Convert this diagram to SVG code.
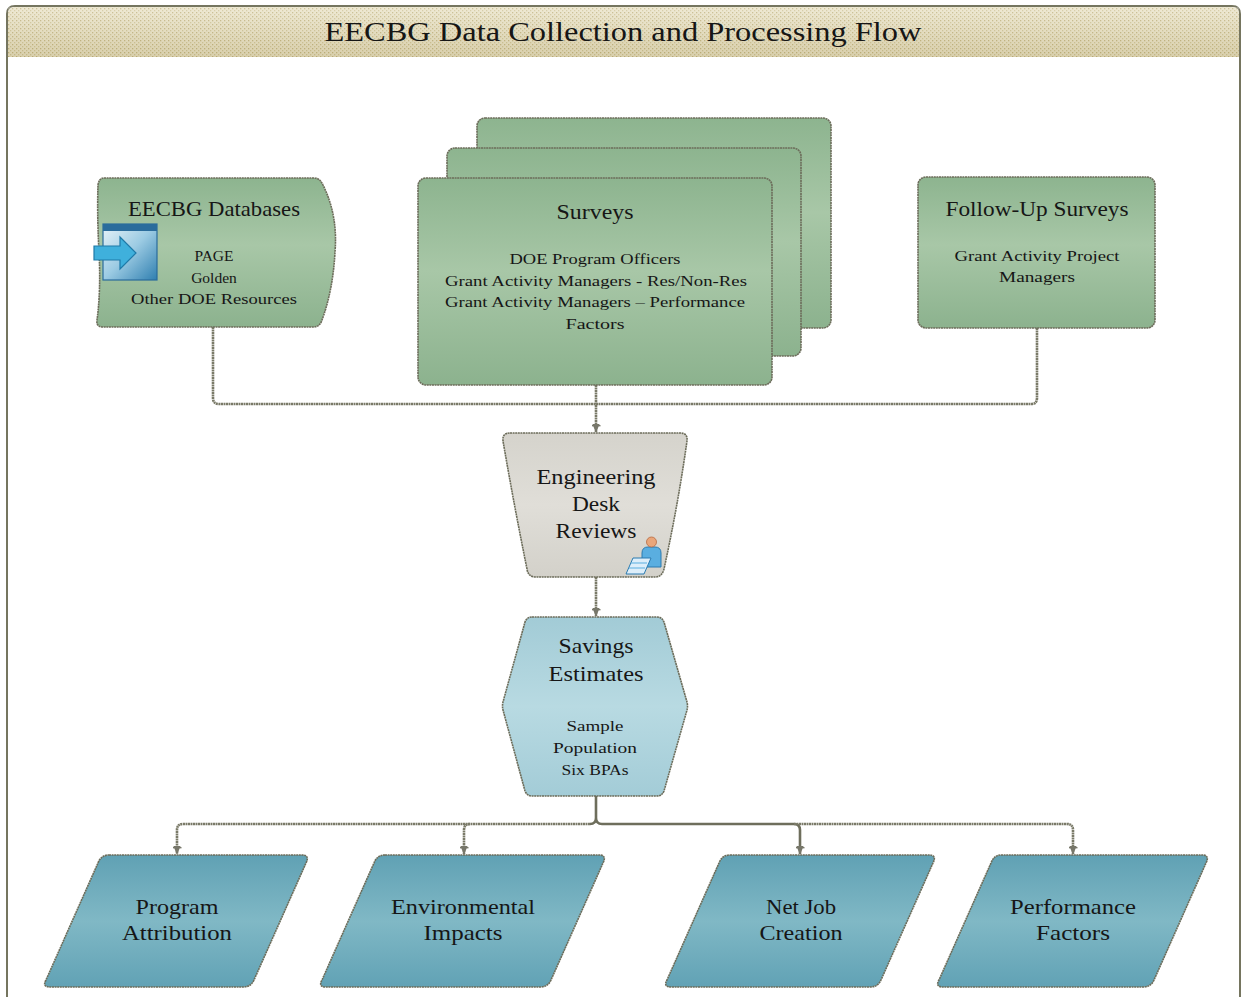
<svg xmlns="http://www.w3.org/2000/svg" width="1241" height="997" viewBox="0 0 1241 997">
<defs>
<pattern id="khaki" width="4" height="4" patternUnits="userSpaceOnUse">
<rect width="4" height="4" fill="#e9e2c6"/>
<rect x="0" y="0" width="1.3" height="1.3" fill="#bfb07a"/>
<rect x="2" y="2" width="1.3" height="1.3" fill="#cdc192"/>
</pattern>
<linearGradient id="gBand" x1="0" y1="0" x2="0" y2="1">
<stop offset="0" stop-color="#ffffff" stop-opacity="0.25"/>
<stop offset="1" stop-color="#a89860" stop-opacity="0.25"/>
</linearGradient>
<linearGradient id="gGreen" x1="0" y1="0" x2="0" y2="1">
<stop offset="0" stop-color="#8db48f"/>
<stop offset="0.45" stop-color="#a8c7a7"/>
<stop offset="1" stop-color="#8cb28e"/>
</linearGradient>
<linearGradient id="gGrey" x1="0" y1="0" x2="0" y2="1">
<stop offset="0" stop-color="#d5d3cc"/>
<stop offset="0.5" stop-color="#e0ded8"/>
<stop offset="1" stop-color="#d3d1ca"/>
</linearGradient>
<linearGradient id="gLight" x1="0" y1="0" x2="0" y2="1">
<stop offset="0" stop-color="#a2cbd6"/>
<stop offset="0.5" stop-color="#b8dae2"/>
<stop offset="1" stop-color="#a3ccd7"/>
</linearGradient>
<linearGradient id="gTeal" x1="0" y1="0" x2="0" y2="1">
<stop offset="0" stop-color="#60a1b4"/>
<stop offset="0.5" stop-color="#80b8c5"/>
<stop offset="1" stop-color="#61a2b5"/>
</linearGradient>
<linearGradient id="gIcon" x1="0" y1="0" x2="1" y2="1">
<stop offset="0" stop-color="#eaf4f9"/>
<stop offset="0.5" stop-color="#9ccbe3"/>
<stop offset="1" stop-color="#2f7fb0"/>
</linearGradient>
<marker id="arr" viewBox="0 0 10 10" refX="9" refY="5" markerWidth="9" markerHeight="9" markerUnits="userSpaceOnUse" orient="auto">
<path d="M0,1 L10,5 L0,9 Z" fill="#77776a"/>
<path d="M2,0 L2,10" stroke="#77776a" stroke-width="1.5"/>
</marker>
</defs>
<style>
.node{stroke:#6c6c5a;stroke-width:1.6;stroke-dasharray:2 0.6}
.green{fill:url(#gGreen)}
.conn{fill:none;stroke:#7a7a68;stroke-width:2.6;stroke-dasharray:2 0.5}
.solid{stroke:#6e6e5c;stroke-dasharray:none}
.t{font-family:"Liberation Serif",serif;fill:#161616;text-anchor:middle}
.h{font-size:21px}
.b{font-size:15.5px}
</style>
<rect width="1241" height="997" fill="#ffffff"/>
<g id="frame">
<path d="M7,1000 V14 Q7,6 15,6 H1232 Q1240,6 1240,14 V1000" fill="#ffffff" stroke="#75755f" stroke-width="2"/>
<path d="M8,57 V14 Q8,7 15,7 H1232 Q1239,7 1239,14 V57 Z" fill="url(#khaki)"/>
<rect x="8" y="7" width="1231" height="50" fill="url(#gBand)"/>
<text class="t" x="623" y="41" font-size="27" textLength="597" lengthAdjust="spacingAndGlyphs">EECBG Data Collection and Processing Flow</text>
</g>
<g id="connectors">
<path class="conn" d="M213,327 V398 Q213,404 219,404 H596"/>
<path class="conn" d="M1037,328 V398 Q1037,404 1031,404 H596"/>
<path class="conn" d="M596,385 V432" marker-end="url(#arr)"/>
<path class="conn" d="M596,577 V616" marker-end="url(#arr)"/>
<path class="conn" d="M590,824 H183 Q177,824 177,830 V854" marker-end="url(#arr)"/>
<path class="conn" d="M470,824 Q464,824 464,830 V854" marker-end="url(#arr)"/>
<path class="conn solid" d="M596,796 V818 Q596,824 590,824 M596,818 Q596,824 602,824 H794 Q800,824 800,830 V854" marker-end="url(#arr)"/>
<path class="conn" d="M794,824 H1067 Q1073,824 1073,830 V854" marker-end="url(#arr)"/>
</g>
<g id="eecbg-databases">
<path class="node green" d="M104,178 H314 Q320,178 323,185 Q338,215 335,252 Q333,290 322,320 Q320,327 313,327 H103 Q96,327 97,320 Q101,290 99,252 Q97,215 98,185 Q99,178 104,178 Z"/>
<text class="t h" x="214" y="216" textLength="172" lengthAdjust="spacingAndGlyphs">EECBG Databases</text>
<text class="t b" x="214" y="261">PAGE</text>
<text class="t b" x="214" y="283">Golden</text>
<text class="t b" x="214" y="304" textLength="166" lengthAdjust="spacingAndGlyphs">Other DOE Resources</text>
<g id="db-icon">
<rect x="103" y="224" width="54" height="56" fill="url(#gIcon)" stroke="#2a6c9c" stroke-width="1.2"/>
<rect x="103" y="224" width="54" height="7" fill="#2a6c9c"/>
<path d="M94,246 H120 V237 L136,253 L120,269 V260 H94 Z" fill="#3fb0dc" stroke="#1f7aa8" stroke-width="1.2"/>
</g>
</g>
<g id="surveys">
<rect class="node green" x="477" y="118" width="354" height="210" rx="8"/>
<rect class="node green" x="447" y="148" width="354" height="208" rx="8"/>
<rect class="node green" x="418" y="178" width="354" height="207" rx="8"/>
<text class="t h" x="595" y="219" textLength="77" lengthAdjust="spacingAndGlyphs">Surveys</text>
<text class="t b" x="595" y="264" textLength="171" lengthAdjust="spacingAndGlyphs">DOE Program Officers</text>
<text class="t b" x="596" y="286" textLength="302" lengthAdjust="spacingAndGlyphs">Grant Activity Managers - Res/Non-Res</text>
<text class="t b" x="595" y="307" textLength="300" lengthAdjust="spacingAndGlyphs">Grant Activity Managers – Performance</text>
<text class="t b" x="595" y="329" textLength="59" lengthAdjust="spacingAndGlyphs">Factors</text>
</g>
<g id="follow-up-surveys">
<rect class="node green" x="918" y="177" width="237" height="151" rx="8"/>
<text class="t h" x="1037" y="216" textLength="183" lengthAdjust="spacingAndGlyphs">Follow-Up Surveys</text>
<text class="t b" x="1037" y="261" textLength="165" lengthAdjust="spacingAndGlyphs">Grant Activity Project</text>
<text class="t b" x="1037" y="282" textLength="76" lengthAdjust="spacingAndGlyphs">Managers</text>
</g>
<g id="engineering-desk-reviews">
<path class="node" fill="url(#gGrey)" d="M510,433 H680 Q688,433 687,441 Q678,505 664,569 Q662,577 655,577 H536 Q528,577 527,569 Q514,505 503,441 Q502,433 510,433 Z"/>
<text class="t h" x="596" y="484" textLength="119" lengthAdjust="spacingAndGlyphs">Engineering</text>
<text class="t h" x="596" y="511" textLength="48" lengthAdjust="spacingAndGlyphs">Desk</text>
<text class="t h" x="596" y="538" textLength="81" lengthAdjust="spacingAndGlyphs">Reviews</text>
<g id="person-icon">
<path d="M642,567 V553 Q642,547 648,547 H655 Q661,547 661,553 V567 Z" fill="#5aaee0" stroke="#2b7bb0" stroke-width="1"/>
<circle cx="651.5" cy="542" r="5" fill="#e9a67a" stroke="#b86a40" stroke-width="0.8"/>
<path d="M633,558 L651,558 L644,574 L626,574 Z" fill="#ddeefa" stroke="#2b7bb0" stroke-width="1"/>
<path d="M631,563 H647 M629,568 H645" stroke="#5aaee0" stroke-width="1.2"/>
</g>
</g>
<g id="savings-estimates">
<path class="node" fill="url(#gLight)" d="M532,617 H657 Q662,617 664,622 L687,702 Q688,706 687,710 L664,791 Q662,796 657,796 H532 Q527,796 525,791 L503,710 Q502,706 503,702 L525,622 Q527,617 532,617 Z"/>
<text class="t h" x="596" y="653" textLength="75" lengthAdjust="spacingAndGlyphs">Savings</text>
<text class="t h" x="596" y="681" textLength="95" lengthAdjust="spacingAndGlyphs">Estimates</text>
<text class="t b" x="595" y="731" textLength="57" lengthAdjust="spacingAndGlyphs">Sample</text>
<text class="t b" x="595" y="753" textLength="84" lengthAdjust="spacingAndGlyphs">Population</text>
<text class="t b" x="595" y="775" textLength="67" lengthAdjust="spacingAndGlyphs">Six BPAs</text>
</g>
<g id="program-attribution">
<path class="node" fill="url(#gTeal)" d="M109,855 H302 Q310,855 306,863 L254,980 Q251,987 243,987 H50 Q42,987 46,980 L98,863 Q101,855 109,855 Z"/>
<text class="t h" x="177" y="914" textLength="83" lengthAdjust="spacingAndGlyphs">Program</text>
<text class="t h" x="177" y="940" textLength="110" lengthAdjust="spacingAndGlyphs">Attribution</text>
</g>
<g id="environmental-impacts">
<path class="node" fill="url(#gTeal)" d="M385,855 H599 Q607,855 603,863 L551,980 Q548,987 540,987 H326 Q318,987 322,980 L374,863 Q377,855 385,855 Z"/>
<text class="t h" x="463" y="914" textLength="144" lengthAdjust="spacingAndGlyphs">Environmental</text>
<text class="t h" x="463" y="940" textLength="79" lengthAdjust="spacingAndGlyphs">Impacts</text>
</g>
<g id="net-job-creation">
<path class="node" fill="url(#gTeal)" d="M730,855 H929 Q937,855 933,863 L881,980 Q878,987 870,987 H671 Q663,987 667,980 L719,863 Q722,855 730,855 Z"/>
<text class="t h" x="801" y="914" textLength="70" lengthAdjust="spacingAndGlyphs">Net Job</text>
<text class="t h" x="801" y="940" textLength="83" lengthAdjust="spacingAndGlyphs">Creation</text>
</g>
<g id="performance-factors">
<path class="node" fill="url(#gTeal)" d="M1001,855 H1202 Q1210,855 1206,863 L1154,980 Q1151,987 1143,987 H943 Q935,987 939,980 L991,863 Q994,855 1001,855 Z"/>
<text class="t h" x="1073" y="914" textLength="126" lengthAdjust="spacingAndGlyphs">Performance</text>
<text class="t h" x="1073" y="940" textLength="74" lengthAdjust="spacingAndGlyphs">Factors</text>
</g>
</svg>
